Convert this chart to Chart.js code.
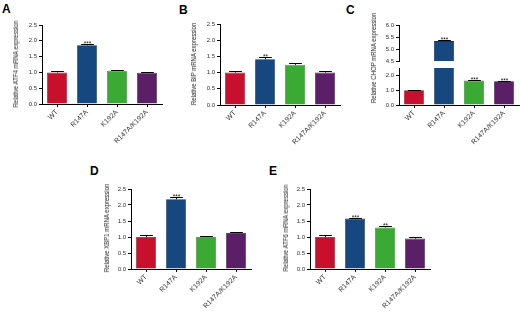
<!DOCTYPE html>
<html>
<head>
<meta charset="utf-8">
<script src="https://cdn.jsdelivr.net/npm/chart.js@4.4.1/dist/chart.umd.min.js"></script>
<style>
body{margin:0;background:#fff;}
#fig{position:relative;width:520px;height:312px;overflow:hidden;background:#fff;}
.caja{position:absolute;}
.letra{position:absolute;font:bold 12px "Liberation Sans",Arial,sans-serif;color:#000;line-height:12px;}
.tituloY{position:absolute;white-space:nowrap;font:7.5px "Liberation Sans",Arial,sans-serif;line-height:8px;color:#222;transform:translate(-50%,-50%) rotate(-90deg) scale(0.8,1);}
</style>
</head>
<body>
<div id="fig">
  <div class="letra" style="left:2px;top:3px">A</div>
  <div class="letra" style="left:179px;top:4px">B</div>
  <div class="letra" style="left:346px;top:4px">C</div>
  <div class="letra" style="left:90px;top:165px">D</div>
  <div class="letra" style="left:269px;top:165px">E</div>
</div>
<script>
const categorias = ["WT", "R147A", "K192A", "R147A/K192A"];
const colores = ["#c8102e", "#17477f", "#3aaa35", "#5a1f66"];
const bordes = ["#a00c24", "#0f3562", "#2b8a28", "#45164f"];

const ticksNormal = [0, 0.5, 1.0, 1.5, 2.0, 2.5];
const ticksChopAlto = [4.5, 5.0, 5.5, 6.0];
const ticksChopBajo = [0, 0.5, 1.0, 1.5, 2.0, 2.5];

// A - ATF4
const atf4 = [1.00, 1.86, 1.05, 0.99];
const atf4Err = [0.04, 0.04, 0.04, 0.03];
const atf4Sig = ["", "***", "", ""];
// B - BiP
const bip = [1.00, 1.41, 1.24, 1.00];
const bipErr = [0.06, 0.07, 0.07, 0.04];
const bipSig = ["", "**", "", ""];
// C - CHOP
const chop = [1.00, 5.33, 1.66, 1.60];
const chopErr = [0.04, 0.05, 0.04, 0.04];
const chopSig = ["", "***", "***", "***"];
// D - XBP1
const xbp1 = [1.00, 2.18, 1.00, 1.13];
const xbp1Err = [0.05, 0.06, 0.02, 0.02];
const xbp1Sig = ["", "***", "", ""];
// E - ATF6
const atf6 = [1.00, 1.58, 1.30, 0.95];
const atf6Err = [0.06, 0.02, 0.04, 0.05];
const atf6Sig = ["", "***", "**", ""];

const FUENTE = '"Liberation Sans",Arial,sans-serif';
const fig = document.getElementById("fig");

const pluginErrores = {
    id: "errores",
    afterDatasetsDraw(chart, args, opts) {
        const ctx = chart.ctx;
        const ejeY = chart.scales.y;
        const meta = chart.getDatasetMeta(0);
        const vals = chart.data.datasets[0].data;
        const errs = opts.errores || [];
        const sig = opts.sig || [];
        ctx.save();
        meta.data.forEach((barra, i) => {
            const v = vals[i], e = errs[i];
            if (v == null || e == null) return;
            if (v < ejeY.min || v + e > ejeY.max) return;
            const x = Math.round(barra.x) + 0.5;
            const y0 = ejeY.getPixelForValue(v);
            const y1 = Math.round(ejeY.getPixelForValue(v + e)) + 0.5;
            const cap = barra.width * 0.32;
            ctx.strokeStyle = "#000";
            ctx.lineWidth = 1;
            ctx.beginPath();
            ctx.moveTo(x, y0);
            ctx.lineTo(x, y1);
            ctx.moveTo(x - cap, y1);
            ctx.lineTo(x + cap, y1);
            ctx.stroke();
            if (sig[i]) {
                ctx.fillStyle = "#111";
                ctx.font = '6.5px "Liberation Sans",Arial,sans-serif';
                ctx.textAlign = "center";
                ctx.textBaseline = "alphabetic";
                ctx.fillText(sig[i], x, y1 + 1);
            }
        });
        ctx.restore();
    }
};

const tituloY = (texto, cx, cy) => {
    const t = document.createElement("div");
    t.className = "tituloY";
    t.style.left = cx + "px";
    t.style.top = cy + "px";
    t.textContent = texto;
    fig.appendChild(t);
};

const crearPanel = (area, valores, errores, sig, ticks, sinX) => {
    const yw = 48, xh = sinX ? 0 : 45, pt = 10, pr = 6, pb = sinX ? 6 : 0;
    const izq = area.l - yw, arr = area.t - pt;
    const ancho = area.r + pr - izq;
    const alto = area.b + xh + pb - arr;
    const div = document.createElement("div");
    div.className = "caja";
    div.style.left = izq + "px";
    div.style.top = arr + "px";
    const canvas = document.createElement("canvas");
    canvas.width = ancho;
    canvas.height = alto;
    canvas.style.width = ancho + "px";
    canvas.style.height = alto + "px";
    div.appendChild(canvas);
    fig.appendChild(div);

    return new Chart(canvas.getContext("2d"), {
        type: "bar",
        data: {
            labels: categorias,
            datasets: [{
                data: valores,
                backgroundColor: colores,
                borderColor: bordes,
                borderWidth: 0.8,
                barPercentage: 0.66,
                categoryPercentage: 1,
                clip: 0
            }]
        },
        options: {
            responsive: false,
            animation: false,
            devicePixelRatio: 1,
            layout: {padding: {top: pt, right: pr, bottom: pb, left: 0}},
            plugins: {
                legend: {display: false},
                tooltip: {enabled: false},
                errores: {errores: errores, sig: sig}
            },
            scales: {
                x: {
                    display: !sinX,
                    offset: true,
                    ticks: {
                        maxRotation: 45, minRotation: 45, autoSkip: false,
                        color: "#333", padding: 1,
                        font: {family: FUENTE, size: 7}
                    },
                    grid: {drawOnChartArea: false, drawTicks: true, tickLength: 3, offset: false, color: "#000"},
                    border: {display: true, color: "#000", width: 1},
                    afterFit: (s) => { s.height = xh; }
                },
                y: {
                    min: ticks[0],
                    max: ticks[ticks.length - 1],
                    ticks: {
                        stepSize: ticks[1] - ticks[0],
                        color: "#333", padding: 2,
                        font: {family: FUENTE, size: 6},
                        callback: (v) => v.toFixed(1)
                    },
                    grid: {drawOnChartArea: false, drawTicks: true, tickLength: 3, color: "#000"},
                    border: {display: true, color: "#000", width: 1},
                    afterFit: (s) => { s.width = yw; }
                }
            }
        },
        plugins: [pluginErrores]
    });
};

crearPanel({l: 42, r: 162, t: 25, b: 104}, atf4, atf4Err, atf4Sig, ticksNormal, false);
crearPanel({l: 220, r: 340, t: 24, b: 105}, bip, bipErr, bipSig, ticksNormal, false);
crearPanel({l: 399, r: 519, t: 25, b: 61}, chop, chopErr, chopSig, ticksChopAlto, true);
crearPanel({l: 399, r: 519, t: 68, b: 105}, chop, chopErr, chopSig, ticksChopBajo, false);
crearPanel({l: 131, r: 251, t: 189, b: 269}, xbp1, xbp1Err, xbp1Sig, ticksNormal, false);
crearPanel({l: 310, r: 430, t: 189, b: 269}, atf6, atf6Err, atf6Sig, ticksNormal, false);

tituloY("Relative ATF4 mRNA expression", 16, 64);
tituloY("Relative BiP mRNA expression", 194, 64);
tituloY("Relative CHOP mRNA expression", 374, 58);
tituloY("Relative XBP1 mRNA expression", 107, 228);
tituloY("Relative ATF6 mRNA expression", 286, 228);
</script>
</body>
</html>
